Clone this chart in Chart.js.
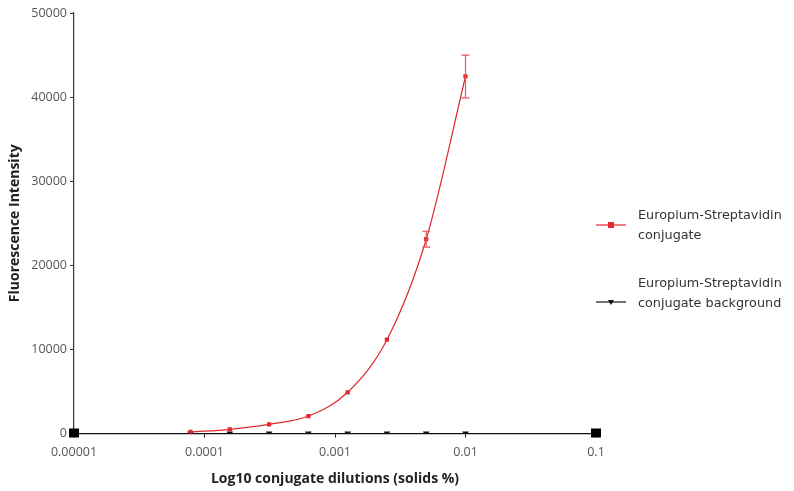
<!DOCTYPE html>
<html>
<head>
<meta charset="utf-8">
<script src="https://cdn.jsdelivr.net/npm/chart.js@4.4.1/dist/chart.umd.min.js"></script>
<style>
  html, body { margin: 0; padding: 0; background: #fff; }
  #wrap { position: relative; width: 794px; height: 491px; }
  #legend { position: absolute; left: 594px; top: 0; width: 200px; font-family: "DejaVu Sans", sans-serif; font-size: 12.8px; color: #333; }
  .item { position: absolute; left: 0; width: 200px; }
  .txt { position: absolute; left: 44px; line-height: 20px; white-space: nowrap; }
</style>
</head>
<body>
<div id="wrap">
  <canvas id="c" width="794" height="491"></canvas>
  <div id="legend"></div>
</div>
<script>
// ---- data ----
const dilutions = [0.000078125, 0.00015625, 0.0003125, 0.000625, 0.00125, 0.0025, 0.005, 0.01];
const conjugate = [180, 500, 1090, 2080, 4900, 11150, 23100, 42450];
const conjugateErr = [0, 0, 0, 0, 0, 0, 950, 2550];
const background = [0, 0, 0, 0, 0, 0, 0, 0];
const seriesNames = ["Europium-Streptavidin conjugate", "Europium-Streptavidin conjugate background"];
const legendLines = [["Europium-Streptavidin", "conjugate"], ["Europium-Streptavidin", "conjugate background"]];
const xTickValues = [0.00001, 0.0001, 0.001, 0.01, 0.1];
const xTickLabels = ["0.00001", "0.0001", "0.001", "0.01", "0.1"];
const yTickValues = [0, 10000, 20000, 30000, 40000, 50000];
const yTickLabels = ["0", "10000", "20000", "30000", "40000", "50000"];
const xTitle = "Log10 conjugate dilutions (solids %)";
const yTitle = "Fluorescence Intensity";

const RED = "#e0282e";
const BLACK = "#111";

const errorBars = {
  id: "errorBars",
  afterDatasetsDraw(chart) {
    const ctx = chart.ctx, xs = chart.scales.x, ys = chart.scales.y;
    ctx.save();
    ctx.strokeStyle = "#e05a5e";
    ctx.lineWidth = 1.2;
    dilutions.forEach((d, i) => {
      if (!conjugateErr[i]) return;
      const x = xs.getPixelForValue(d);
      const yHi = ys.getPixelForValue(conjugate[i] + conjugateErr[i]);
      const yLo = ys.getPixelForValue(conjugate[i] - conjugateErr[i]);
      ctx.beginPath();
      ctx.moveTo(x, yHi); ctx.lineTo(x, yLo);
      ctx.moveTo(x - 4, yHi); ctx.lineTo(x + 4, yHi);
      ctx.moveTo(x - 4, yLo); ctx.lineTo(x + 4, yLo);
      ctx.stroke();
    });
    ctx.restore();
  }
};

const axisEnds = {
  id: "axisEnds",
  afterDraw(chart) {
    const ctx = chart.ctx, xs = chart.scales.x, ys = chart.scales.y;
    const y = ys.getPixelForValue(0);
    ctx.save();
    ctx.fillStyle = "#000";
    [xs.left, xs.right].forEach((x) => ctx.fillRect(x - 5, y - 5, 10, 9));
    ctx.restore();
  }
};

const tickFont = { family: "'Open Sans', sans-serif", size: 12.5 };
const titleFont = { family: "'Open Sans', sans-serif", size: 14, weight: "bold" };

new Chart(document.getElementById("c"), {
  type: "line",
  data: {
    datasets: [
      {
        label: seriesNames[0],
        data: dilutions.map((d, i) => ({ x: d, y: conjugate[i] })),
        borderColor: RED, backgroundColor: RED, borderWidth: 1.2,
        pointStyle: "rect", pointRadius: 3, pointBorderWidth: 0,
        cubicInterpolationMode: "monotone"
      },
      {
        label: seriesNames[1],
        data: dilutions.map((d, i) => ({ x: d, y: background[i] })),
        borderColor: BLACK, backgroundColor: BLACK, borderWidth: 1,
        pointStyle: "triangle", rotation: 180, pointRadius: 3.8, pointBorderWidth: 0
      }
    ]
  },
  options: {
    responsive: false,
    animation: false,
    layout: { padding: { top: 13, right: 198, left: 7, bottom: 4 } },
    plugins: { legend: { display: false }, tooltip: { enabled: false } },
    scales: {
      x: {
        type: "logarithmic", min: 0.00001, max: 0.1,
        afterBuildTicks: (s) => { s.ticks = xTickValues.map((v) => ({ value: v })); },
        afterFit: (s) => { s.height = 491 - 4 - 433.5; },
        ticks: {
          color: "#555", font: tickFont, padding: 7, maxRotation: 0, autoSkip: false,
          callback: (v) => { const i = xTickValues.indexOf(v); return i >= 0 ? xTickLabels[i] : ""; }
        },
        grid: { display: true, drawOnChartArea: false, drawTicks: true, tickLength: 4, color: "#222" },
        border: { display: true, color: "#111", width: 1.2 },
        title: { display: true, text: xTitle, color: "#222", font: titleFont, padding: { top: 6, bottom: 0 } }
      },
      y: {
        min: 0, max: 50000,
        afterBuildTicks: (s) => { s.ticks = yTickValues.map((v) => ({ value: v })); },
        afterFit: (s) => { s.width = 74 - 7; },
        ticks: {
          color: "#555", font: tickFont, padding: 3,
          callback: (v) => { const i = yTickValues.indexOf(v); return i >= 0 ? yTickLabels[i] : ""; }
        },
        grid: { display: true, drawOnChartArea: false, drawTicks: true, tickLength: 4, color: "#333" },
        border: { display: true, color: "#333", width: 1.2 },
        title: { display: true, text: yTitle, color: "#222", font: titleFont, padding: { top: 0, bottom: 6 } }
      }
    }
  },
  plugins: [errorBars, axisEnds]
});

// legend
const legend = document.getElementById("legend");
const legendTops = [205, 273];
[RED, BLACK].forEach((col, i) => {
  const item = document.createElement("div");
  item.className = "item";
  item.style.top = legendTops[i] + "px";
  const txt = document.createElement("div");
  txt.className = "txt";
  txt.innerHTML = legendLines[i].join("<br>");
  const sym = document.createElement("canvas");
  sym.width = 34; sym.height = 10;
  sym.style.position = "absolute"; sym.style.left = "0px";
  sym.style.top = (i === 0 ? 15 : 24) + "px";
  const g = sym.getContext("2d");
  g.strokeStyle = col; g.fillStyle = col; g.lineWidth = 1.2;
  g.beginPath(); g.moveTo(2, 5); g.lineTo(32, 5); g.stroke();
  if (i === 0) { g.fillRect(14, 2, 6, 6); }
  else { g.beginPath(); g.moveTo(14, 3); g.lineTo(20, 3); g.lineTo(17, 8); g.closePath(); g.fill(); }
  item.appendChild(sym);
  item.appendChild(txt);
  legend.appendChild(item);
});
</script>
</body>
</html>
